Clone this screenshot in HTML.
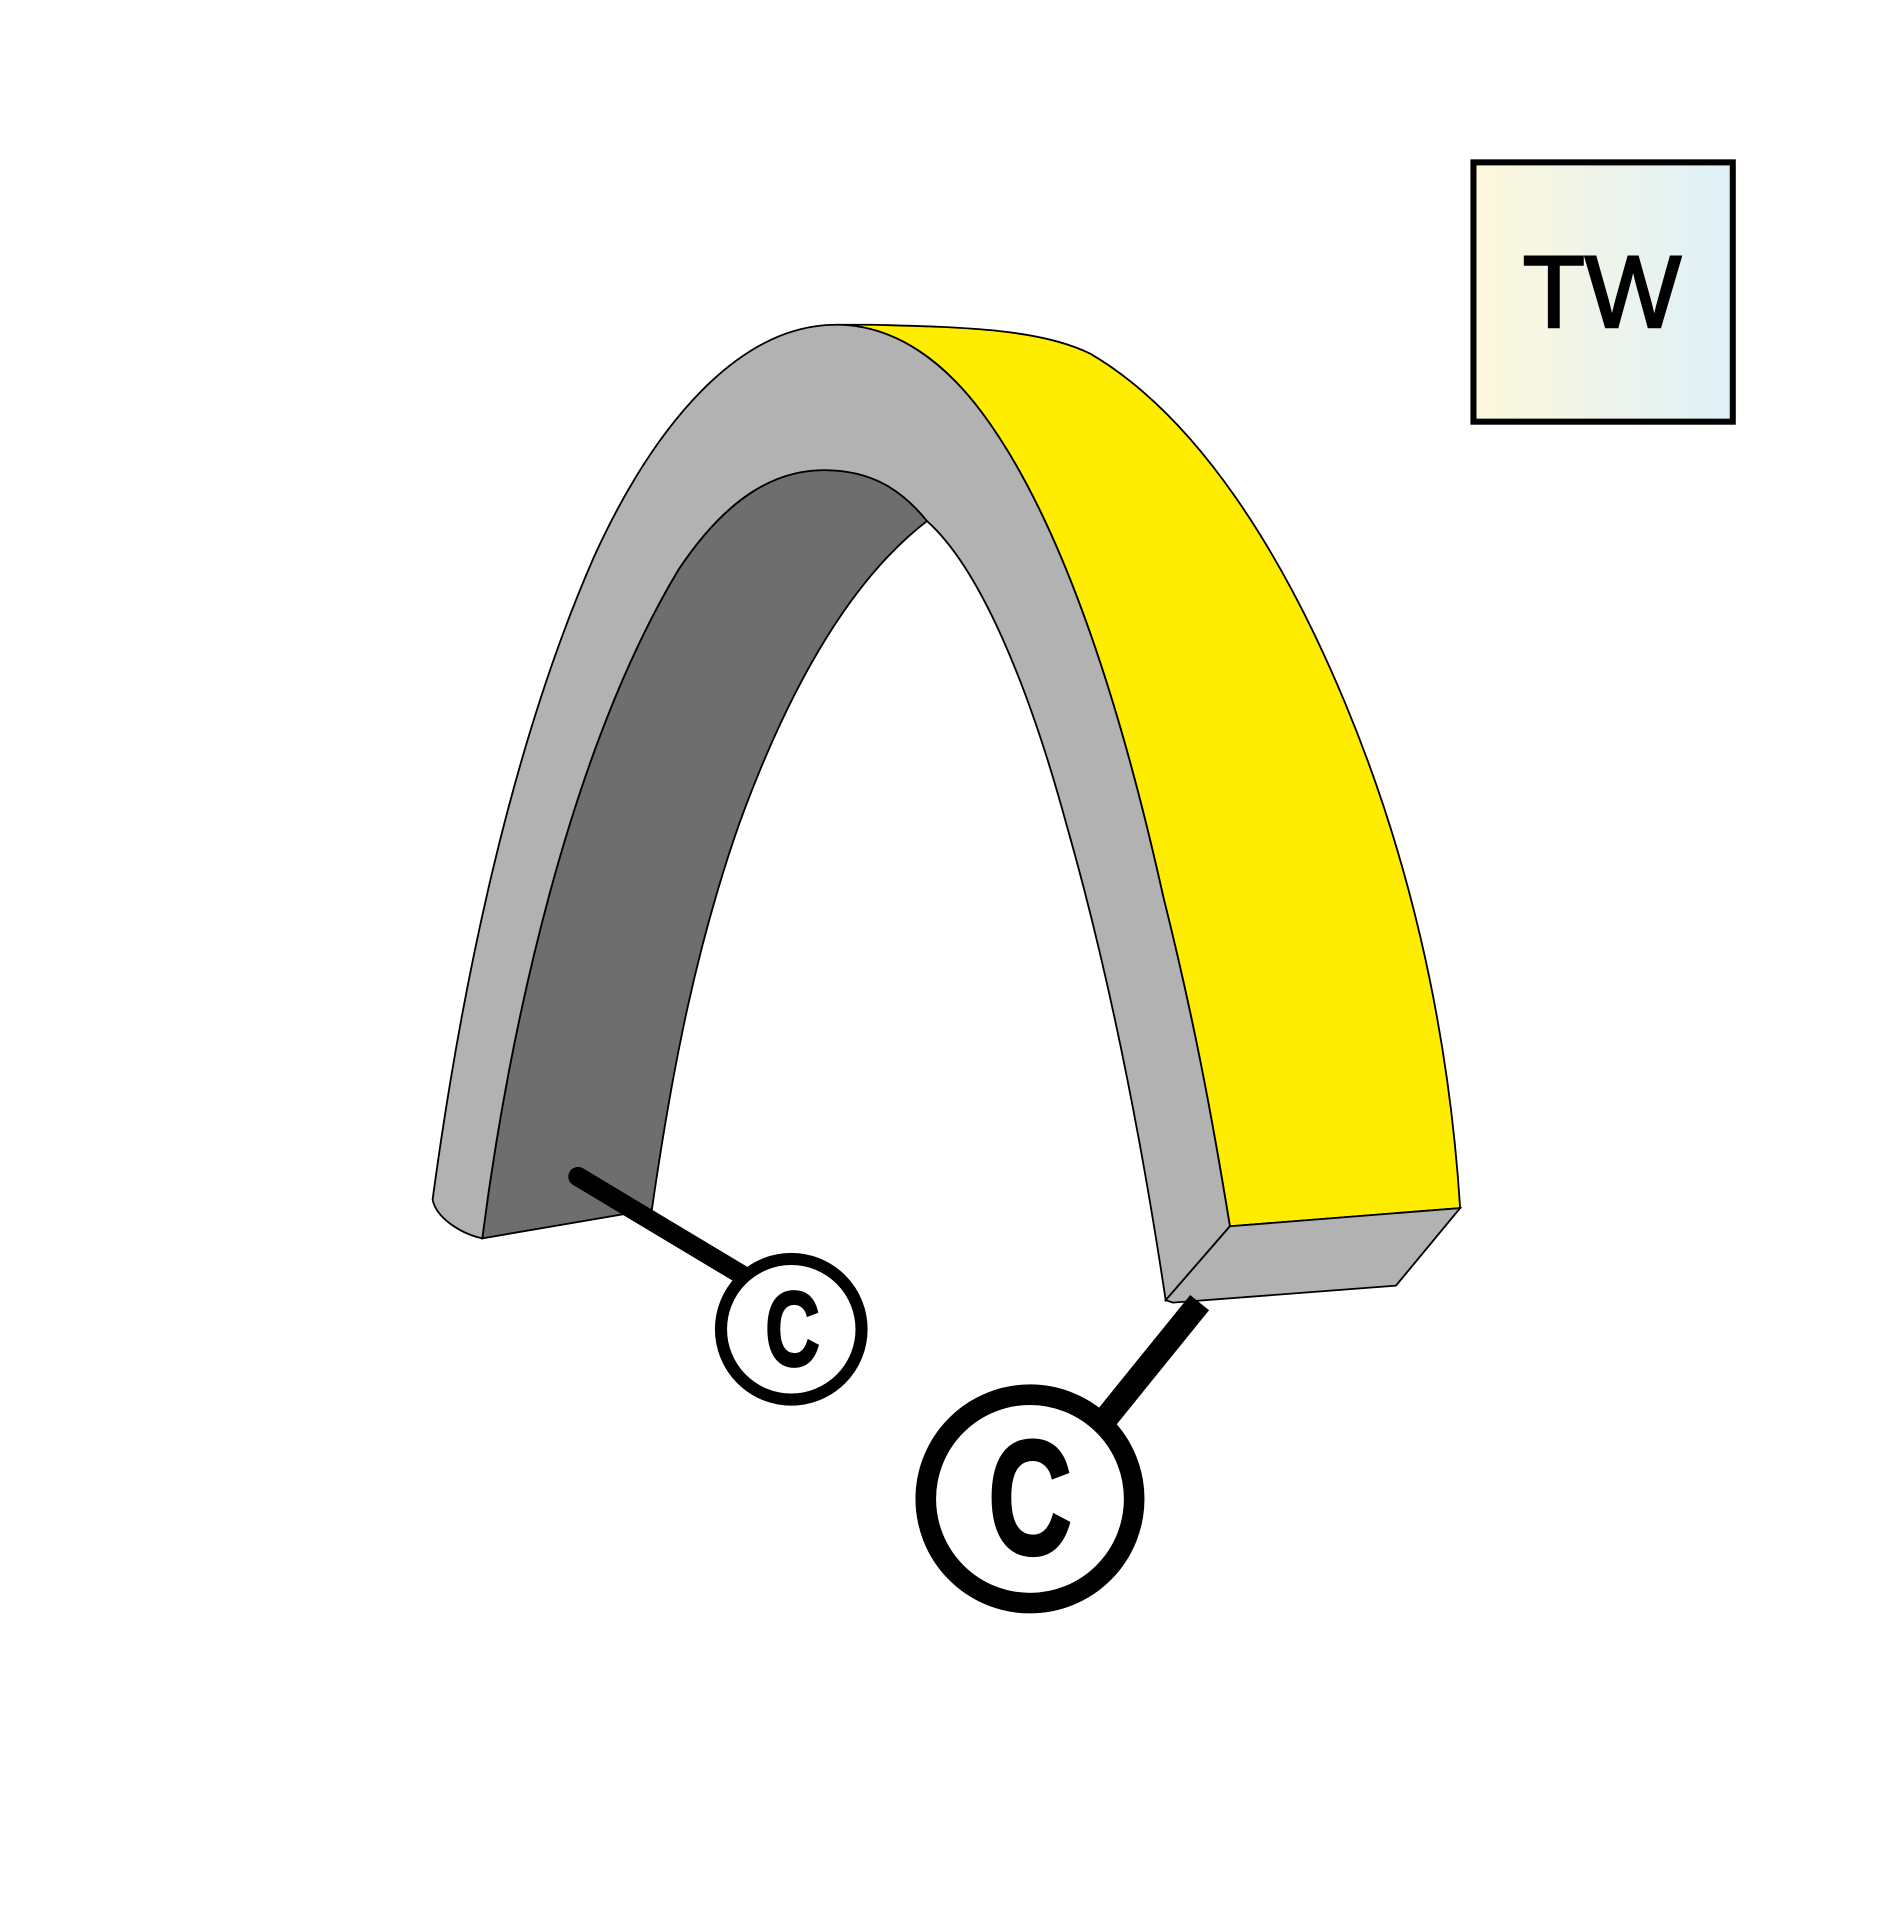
<!DOCTYPE html>
<html><head><style>html,body{margin:0;padding:0;background:#fff}</style></head>
<body>
<svg width="1900" height="1900" viewBox="0 0 1568 1568" xmlns="http://www.w3.org/2000/svg">
<defs>
<linearGradient id="g" x1="0" x2="1" y1="0" y2="0">
<stop offset="0" stop-color="#fef8dc"/><stop offset="1" stop-color="#def0f8"/>
</linearGradient>
</defs>
<rect width="1568" height="1568" fill="#fff"/>
<rect x="1216" y="134" width="214" height="214" fill="url(#g)" stroke="#000" stroke-width="5"/>
<text x="1322" y="270" font-family="Liberation Sans, sans-serif" font-size="84" text-anchor="middle" fill="#000" stroke="#000" stroke-width="2">TW</text>

<path d="M690,268 L720,268 C800,270 860,272 900,292 C990,345 1060,460 1110,580 C1160,700 1195,840 1205,997 L1015,1012 C1000,920 985,840 960,740 C920,560 870,420 810,340 C780,300 740,268 690,268 Z" fill="#ffed00" stroke="#000" stroke-width="1.5"/>
<path d="M398,1022 C420,850 470,620 560,470 C600,410 640,388 680,388 C720,388 745,405 765,430 C700,480 650,570 610,680 C575,780 555,880 538,998 Z" fill="#6e6e6e" stroke="#000" stroke-width="1.5"/>
<path d="M357,990 C380,820 420,620 490,460 C540,350 610,268 690,268 C740,268 780,300 810,340 C870,420 920,560 960,740 C985,840 1000,920 1015,1012 L962,1073 C945,960 920,820 880,680 C850,570 810,470 765,430 C745,405 720,388 680,388 C640,388 600,410 560,470 C470,620 420,850 398,1022 C380,1018 360,1005 357,990 Z" fill="#b2b2b2" stroke="#000" stroke-width="1.5"/>
<path d="M1015,1012 L1205,997 L1152,1061 L968,1075 L962,1073 Z" fill="#b2b2b2" stroke="#000" stroke-width="1.5"/>

<line x1="477" y1="971" x2="612" y2="1052" stroke="#000" stroke-width="16" stroke-linecap="round"/>
<circle cx="653" cy="1097" r="58" fill="#fff" stroke="#000" stroke-width="10"/>
<text transform="translate(654,1127) scale(0.82,1.15)" x="0" y="0" font-family="Liberation Sans, sans-serif" font-weight="bold" font-size="76" text-anchor="middle" stroke="#000" stroke-width="2">C</text>
<line x1="990" y1="1075" x2="905" y2="1180" stroke="#000" stroke-width="20"/>
<circle cx="850" cy="1237" r="86" fill="#fff" stroke="#000" stroke-width="17"/>
<text transform="translate(850,1282) scale(0.82,1.15)" x="0" y="0" font-family="Liberation Sans, sans-serif" font-weight="bold" font-size="116" text-anchor="middle" stroke="#000" stroke-width="3">C</text>
</svg>
</body></html>
